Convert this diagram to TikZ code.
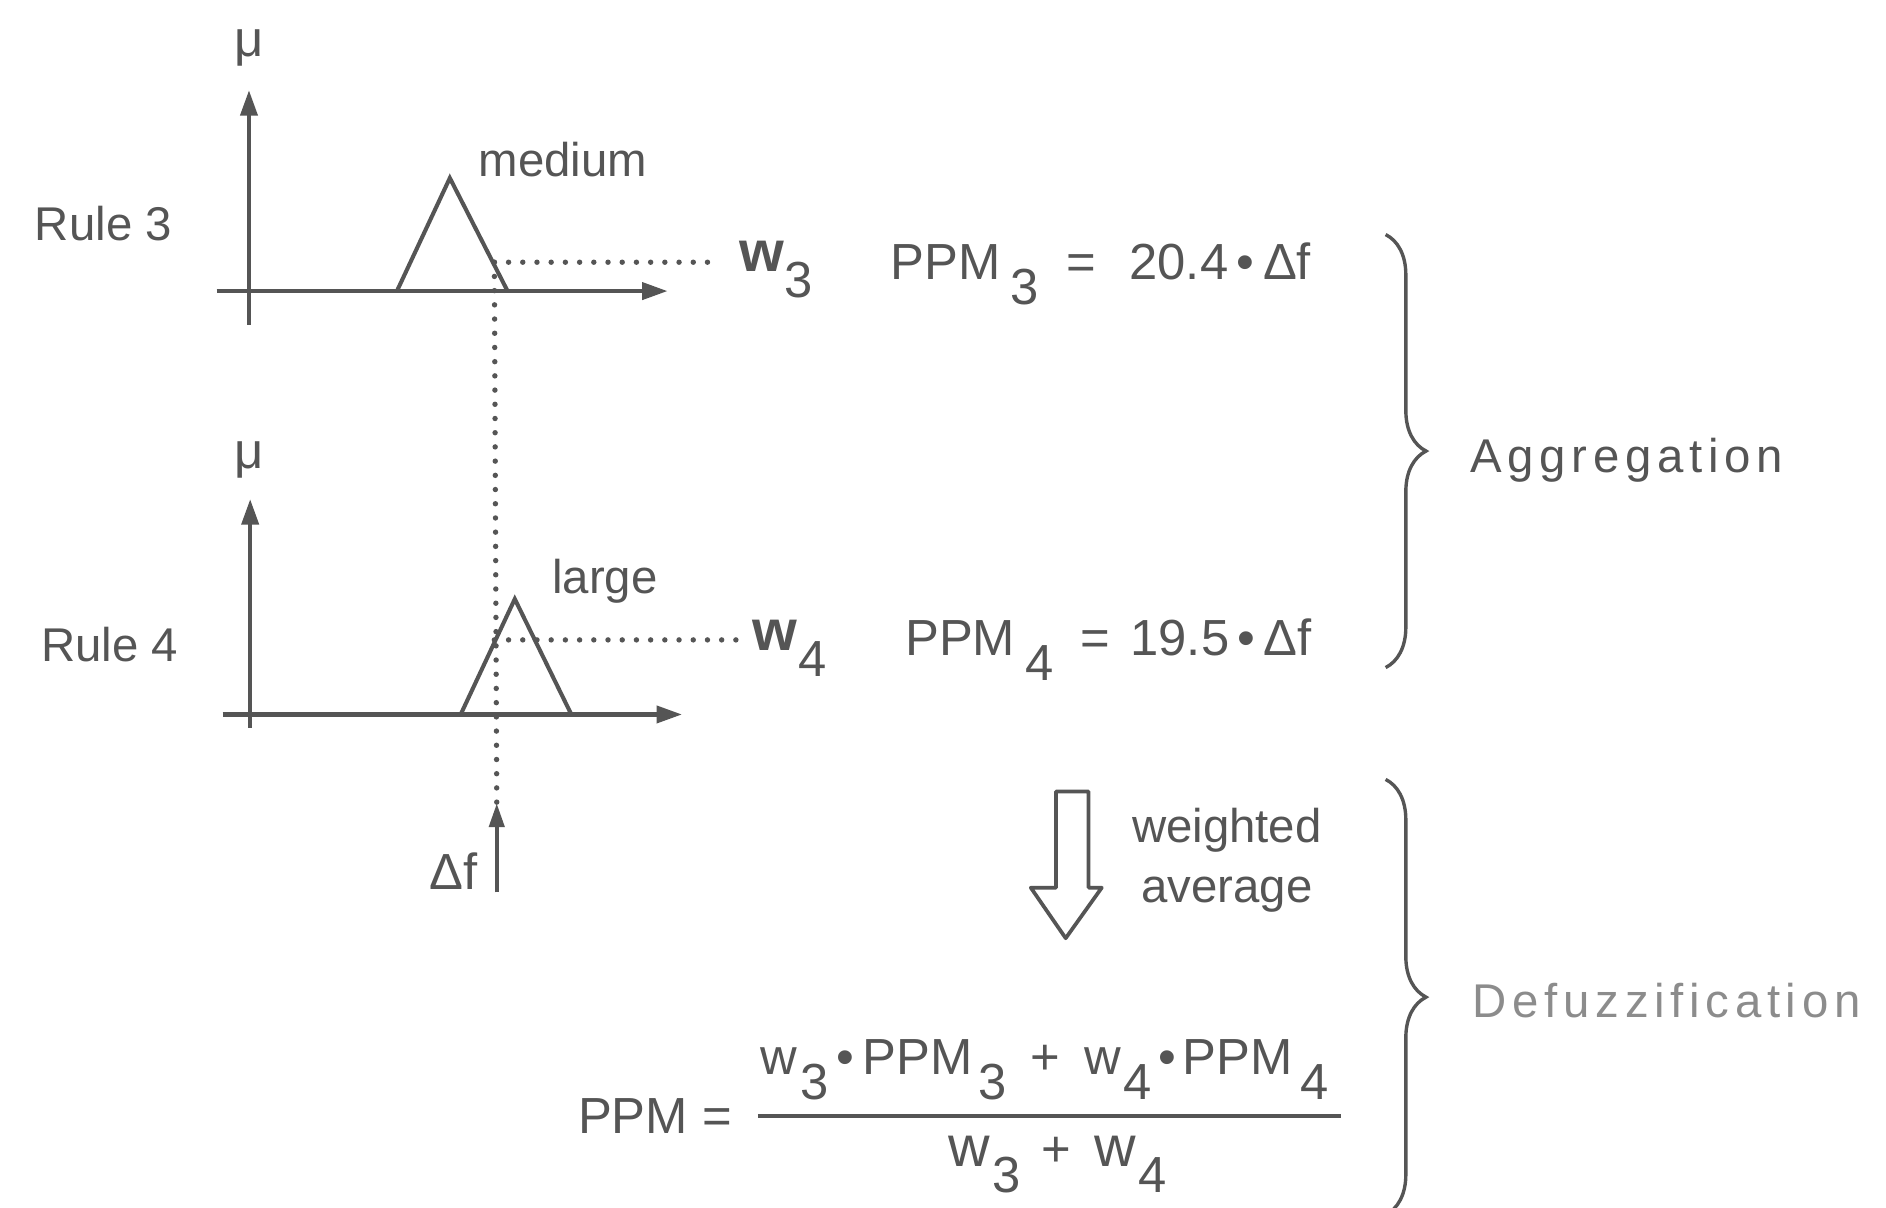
\documentclass[tikz,border=0pt]{standalone}
\usepackage{fontspec}
\setmainfont{Liberation Sans}
\newfontfamily\widefont[LetterSpace=12]{Liberation Sans}
\usetikzlibrary{arrows.meta,decorations.pathreplacing}
\definecolor{ink}{HTML}{555555}
\definecolor{pale}{HTML}{8C8C8C}
\newcommand{\lowsub}[1]{\hspace{0.2em}\raisebox{-0.5em}{#1}}
\newcommand{\wsub}[1]{w\hspace{0.05em}\raisebox{-0.5em}{#1}}
\newcommand{\wlbl}[1]{{\fontsize{17}{20}\selectfont\bfseries w}\hspace{0.02em}\raisebox{-0.5em}{#1}}

\begin{document}
\begin{tikzpicture}[x=0.0125cm, y=-0.0125cm,
    txt/.style={text=ink, inner sep=0pt, font=\fontsize{15}{18}\selectfont},
    small/.style={txt, font=\fontsize{14}{17.7}\selectfont},
    axis/.style={draw=ink, line width=1.2pt, -{Triangle[length=7.5pt,width=5pt]}},
    memb/.style={draw=ink, line width=1.2pt, line join=miter},
    dots/.style={draw=ink, line width=1.6pt, line cap=round, dash pattern=on 0pt off 4.2pt},
    bracket/.style={draw=ink, line width=1pt, decorate, decoration={brace, amplitude=0.42cm}}
  ]
  \useasboundingbox[fill=white] (0,0) rectangle (1568,1004);
  \clip (0,0) rectangle (1568,1004);

  % rule 3
  \node[small] (rule3) at (86,186) {Rule 3};
  \node[txt] (mu3) at (207,40) {μ};
  \draw[axis] (207,270) -- (207,75);
  \draw[axis] (180,242) -- (555,242);
  \draw[memb] (330,242) -- (374,148) -- (422,242);
  \node[small] (medium) at (468,133) {medium};
  \coordinate (cut3) at (411,218);
  \node[txt, anchor=base west] (w3) at (614,226) {\wlbl{3}};
  \draw[dots] (cut3) -- (590,218);

  % rule 4
  \node[small] (rule4) at (91,536) {Rule 4};
  \node[txt] (mu4) at (207,382) {μ};
  \draw[axis] (208,605) -- (208,415);
  \draw[axis] (185,594) -- (567,594);
  \draw[memb] (383,594) -- (428,498) -- (475,594);
  \node[small] (large) at (503,483) {large};
  \coordinate (cut4) at (411,532);
  \node[txt, anchor=base west] (w4) at (625,541) {\wlbl{4}};
  \draw[dots] (cut4) -- (616,532);

  % input
  \coordinate (dftail) at (413,742);
  \coordinate (dftip) at (413,668);
  \draw[draw=ink, line width=1.1pt, -{Triangle[length=7pt,width=4.5pt]}] (dftail) -- (dftip);
  \draw[dots] (cut3) -- (dftip);
  \node[txt] (df) at (377,724) {Δf};

  % rule outputs
  \node[txt, anchor=base west] (ppm3) at (740,232) {PPM\lowsub{3}\hspace{8pt}=\hspace{10pt}20.4\,•\,Δf};
  \node[txt, anchor=base west] (ppm4) at (752,545) {PPM\lowsub{4}\hspace{8pt}=\hspace{6pt}19.5\,•\,Δf};

  \coordinate (aggtop) at (1152,195);
  \coordinate (aggbot) at (1152,555);
  \draw[bracket] (aggtop) -- (aggbot);
  \node[txt, anchor=west, font=\widefont\fontsize{14}{17}\selectfont] (agg) at (1222,383) {Aggregation};

  % weighted average
  \draw[draw=ink, line width=1.1pt, line join=round]
    (878,658) -- (905,658) -- (905,738) -- (916,738) -- (886,780) -- (857,738) -- (878,738) -- cycle;
  \node[small, align=center] (wavg) at (1020,715) {weighted\\average};

  \node[txt, anchor=base west] (lhs) at (480,942) {PPM =};
  \node[txt, anchor=base west] (num) at (632,893)
    {\wsub{3}\,•\,PPM\hspace{0.12em}\raisebox{-0.5em}{3}\hspace{7pt}+\hspace{7pt}\wsub{4}\hspace{2pt}•\hspace{2pt}PPM\hspace{0.15em}\raisebox{-0.5em}{4}};
  \node[txt, anchor=base west] (den) at (788,970)
    {{\fontsize{17}{20}\selectfont w}\hspace{0.05em}\raisebox{-0.5em}{3}\hspace{6pt}+\hspace{7pt}{\fontsize{17}{20}\selectfont w}\hspace{0.05em}\raisebox{-0.5em}{4}};
  \draw[draw=ink, line width=1.1pt] (630,928) -- (1115,928);

  \coordinate (deftop) at (1152,648);
  \coordinate (defbot) at (1152,1010);
  \draw[bracket] (deftop) -- (defbot);
  \node[txt, anchor=west, text=pale, font=\widefont\fontsize{14}{17}\selectfont] (defuzz) at (1224,832) {Defuzzification};
\end{tikzpicture}
\end{document}
